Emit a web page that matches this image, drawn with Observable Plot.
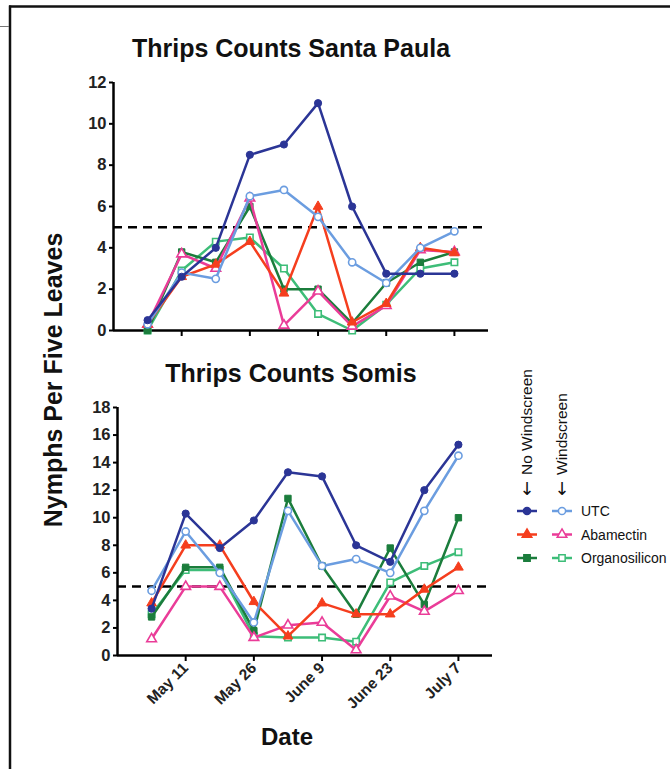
<!DOCTYPE html>
<html>
<head>
<meta charset="utf-8">
<script src="https://cdn.jsdelivr.net/npm/d3@7"></script>
<script src="https://cdn.jsdelivr.net/npm/@observablehq/plot@0.6"></script>
<style>
  html, body { margin: 0; padding: 0; background: #fff; }
  #root { position: relative; width: 670px; height: 769px; overflow: hidden; font-family: "Liberation Sans", Arial, sans-serif; }
  .abs { position: absolute; }
</style>
</head>
<body>
<div id="root"></div>
<script>
// ---------- data ----------
const weeks = [0, 1, 2, 3, 4, 5, 6, 7, 8, 9];
const xDomain = [-1, 10];
const tickWeeks = [1, 3, 5, 7, 9];
const tickLabels = ["May 11", "May 26", "June 9", "June 23", "July 7"];
const treatments = ["UTC", "Abamectin", "Organosilicon"];
const conditions = ["No Windscreen", "Windscreen"];
const threshold = [5];

const spYTicks = [0, 2, 4, 6, 8, 10, 12];
const soYTicks = [0, 2, 4, 6, 8, 10, 12, 14, 16, 18];

// Santa Paula
const spUtcNo  = [0.5, 2.6, 4.0, 8.5, 9.0, 11.0, 6.0, 2.75, 2.75, 2.75];
const spUtcW   = [0.3, 2.8, 2.5, 6.5, 6.8, 5.5, 3.3, 2.3, 4.0, 4.8];
const spAbaNo  = [0.3, 2.6, 3.2, 4.3, 1.8, 6.0, 0.4, 1.3, 4.0, 3.75];
const spAbaW   = [0.3, 3.7, 3.0, 6.4, 0.25, 1.9, 0.2, 1.2, 3.9, 3.8];
const spOrgNo  = [0.0, 3.8, 3.3, 6.0, 2.0, 2.0, 0.35, 2.3, 3.3, 3.8];
const spOrgW   = [0.0, 2.9, 4.3, 4.5, 3.0, 0.8, 0.0, 1.25, 3.0, 3.3];

// Somis
const soUtcNo  = [3.4, 10.3, 7.8, 9.8, 13.3, 13.0, 8.0, 6.8, 12.0, 15.3];
const soUtcW   = [4.7, 9.0, 6.0, 2.4, 10.5, 6.5, 7.0, 6.0, 10.5, 14.5];
const soAbaNo  = [3.8, 8.0, 8.0, 3.9, 1.4, 3.8, 3.0, 3.0, 4.8, 6.4];
const soAbaW   = [1.2, 5.0, 5.0, 1.3, 2.2, 2.4, 0.4, 4.3, 3.2, 4.7];
const soOrgNo  = [2.8, 6.4, 6.4, 1.8, 11.4, 6.5, 3.0, 7.8, 3.7, 10.0];
const soOrgW   = [3.0, 6.2, 6.2, 1.4, 1.3, 1.3, 1.0, 5.3, 6.5, 7.5];

// ---------- styling ----------
const FONT = '"Liberation Sans", Arial, sans-serif';
const colors = {
  "UTC|No Windscreen": "#2b3596",
  "UTC|Windscreen": "#6b9de0",
  "Abamectin|No Windscreen": "#f53e1e",
  "Abamectin|Windscreen": "#ea3c98",
  "Organosilicon|No Windscreen": "#1b7d3c",
  "Organosilicon|Windscreen": "#3dbd78"
};
const symbols = { "UTC": "circle", "Abamectin": "triangle", "Organosilicon": "square" };
const drawOrder = [
  ["Organosilicon", "Windscreen"], ["Organosilicon", "No Windscreen"],
  ["Abamectin", "Windscreen"], ["Abamectin", "No Windscreen"],
  ["UTC", "Windscreen"], ["UTC", "No Windscreen"]
];

function table(site, series) {
  const rows = [];
  for (const [treatment, condition, values] of series) {
    values.forEach((v, i) => rows.push({ site, treatment, condition, week: weeks[i], value: v }));
  }
  return rows;
}
const spRows = table("Santa Paula", [
  ["UTC", "No Windscreen", spUtcNo], ["UTC", "Windscreen", spUtcW],
  ["Abamectin", "No Windscreen", spAbaNo], ["Abamectin", "Windscreen", spAbaW],
  ["Organosilicon", "No Windscreen", spOrgNo], ["Organosilicon", "Windscreen", spOrgW]
]);
const soRows = table("Somis", [
  ["UTC", "No Windscreen", soUtcNo], ["UTC", "Windscreen", soUtcW],
  ["Abamectin", "No Windscreen", soAbaNo], ["Abamectin", "Windscreen", soAbaW],
  ["Organosilicon", "No Windscreen", soOrgNo], ["Organosilicon", "Windscreen", soOrgW]
]);

function seriesMarks(rows) {
  const marks = [];
  for (const [t, c] of drawOrder) {
    const d = rows.filter(r => r.treatment === t && r.condition === c);
    const col = colors[t + "|" + c];
    const open = c === "Windscreen";
    marks.push(Plot.line(d, { x: "week", y: "value", stroke: col, strokeWidth: 2.5 }));
    marks.push(Plot.dot(d, {
      x: "week", y: "value", symbol: () => symbols[t], r: 3.6,
      fill: open ? "white" : col, stroke: col, strokeWidth: open ? 1.6 : 1
    }));
  }
  return marks;
}

function chart(rows, yTicks, o) {
  return Plot.plot({
    width: o.width, height: o.height,
    marginLeft: o.ml, marginRight: o.mr, marginTop: o.mt, marginBottom: o.mb,
    x: { domain: xDomain, label: null },
    y: { domain: [0, d3.max(yTicks)], label: null },
    symbol: { type: "identity" },
    style: { fontFamily: FONT, fontSize: "16px", fontWeight: "bold", color: "black", background: "transparent", overflow: "visible" },
    marks: [
      Plot.axisY({ ticks: yTicks, tickSize: 4, tickPadding: 3, strokeWidth: 2, label: null,
        fontSize: 16.5, fontWeight: "bold", fill: "#222" }),
      Plot.axisX({
        ticks: tickWeeks, tickSize: 6, strokeWidth: 2, label: null,
        fontSize: 15.5, fontWeight: "bold", fill: "#222",
        tickRotate: o.labels ? -45 : 0, tickPadding: o.labels ? 4 : 3,
        tickFormat: o.labels ? (d => tickLabels[tickWeeks.indexOf(d)]) : (() => "")
      }),
      Plot.ruleX([xDomain[0]], { stroke: "black", strokeWidth: 2.5 }),
      Plot.ruleY([0], { stroke: "black", strokeWidth: 2.5 }),
      Plot.ruleY(threshold, { stroke: "black", strokeWidth: 2.5, strokeDasharray: "9,6" }),
      ...seriesMarks(rows)
    ]
  });
}

const root = document.getElementById("root");

// frame lines
const frameSvg = d3.select(root).append("svg")
  .attr("class", "abs").style("left", "0px").style("top", "0px")
  .attr("width", 670).attr("height", 769);
frameSvg.append("line").attr("x1", 9).attr("x2", 670).attr("y1", 6.5).attr("y2", 6.5).attr("stroke", "#111").attr("stroke-width", 2.5);
frameSvg.append("line").attr("x1", 10).attr("x2", 10).attr("y1", 5.5).attr("y2", 769).attr("stroke", "#111").attr("stroke-width", 2.5);
frameSvg.append("line").attr("x1", 0).attr("x2", 9).attr("y1", 26.5).attr("y2", 26.5).attr("stroke", "#777").attr("stroke-width", 1);

// top chart
const chartSP = chart(spRows, spYTicks, { width: 440, height: 275, ml: 53, mr: 12, mt: 12, mb: 15, labels: false });
chartSP.classList.add("abs"); chartSP.style.left = "60px"; chartSP.style.top = "70px";
root.appendChild(chartSP);

// bottom chart
const chartSO = chart(soRows, soYTicks, { width: 445, height: 320, ml: 57, mr: 13, mt: 12, mb: 60, labels: true });
chartSO.classList.add("abs"); chartSO.style.left = "60px"; chartSO.style.top = "395px";
root.appendChild(chartSO);

// titles
function addText(txt, css) {
  const el = document.createElement("div");
  el.className = "abs";
  el.textContent = txt;
  Object.assign(el.style, css);
  root.appendChild(el);
  return el;
}
addText("Thrips Counts Santa Paula", { left: "291px", top: "34px", fontWeight: "bold", fontSize: "25px", whiteSpace: "nowrap", transform: "translateX(-50%)", color: "#111" });
addText("Thrips Counts Somis", { left: "291px", top: "359px", fontWeight: "bold", fontSize: "25px", whiteSpace: "nowrap", transform: "translateX(-50%)", color: "#111" });
addText("Date", { left: "287px", top: "723px", fontWeight: "bold", fontSize: "24px", whiteSpace: "nowrap", transform: "translateX(-50%)", color: "#111" });
addText("Nymphs Per Five Leaves", { left: "53px", top: "380px", fontWeight: "bold", fontSize: "25px", whiteSpace: "nowrap", transform: "translate(-50%, -50%) rotate(-90deg)", color: "#111" });

// legend
const lg = d3.select(root).append("svg")
  .attr("class", "abs").style("left", "505px").style("top", "350px")
  .attr("width", 165).attr("height", 230)
  .style("font-family", FONT);
const colX = { "No Windscreen": 22, "Windscreen": 57 };
conditions.forEach(c => {
  lg.append("text").attr("transform", `translate(${colX[c] + 5},125) rotate(-90)`)
    .attr("font-size", 15.5).attr("fill", "#111").text(c);
  lg.append("text").attr("x", colX[c]).attr("y", 145).attr("text-anchor", "middle")
    .attr("font-size", 18).attr("font-family", "DejaVu Sans").attr("fill", "#111").text("↓");
});
const symMap = { circle: d3.symbolCircle, triangle: d3.symbolTriangle, square: d3.symbolSquare };
treatments.forEach((t, i) => {
  const y = 161 + i * 23.5;
  conditions.forEach(c => {
    const col = colors[t + "|" + c];
    const cx = colX[c];
    lg.append("line").attr("x1", cx - 10).attr("x2", cx + 10).attr("y1", y).attr("y2", y).attr("stroke", col).attr("stroke-width", 2.5);
    lg.append("path").attr("d", d3.symbol(symMap[symbols[t]], 40)())
      .attr("transform", `translate(${cx},${y})`)
      .attr("fill", c === "Windscreen" ? "white" : col).attr("stroke", col).attr("stroke-width", 1.5);
  });
  lg.append("text").attr("x", 76).attr("y", y + 5).attr("font-size", 14).attr("fill", "#111").text(t);
});
</script>
</body>
</html>
